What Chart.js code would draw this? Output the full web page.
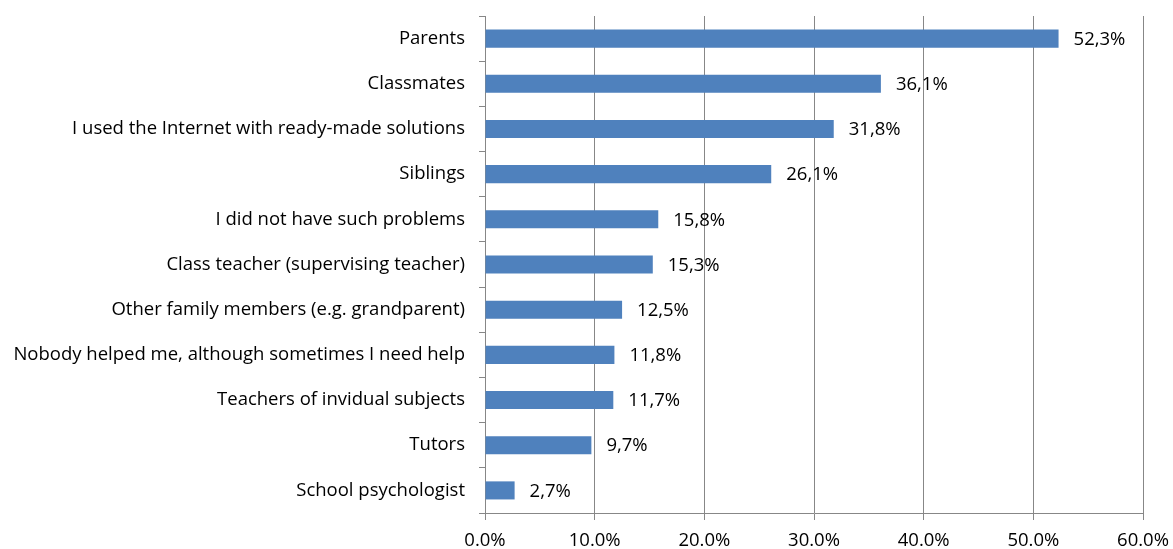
<!DOCTYPE html>
<html>
<head>
<meta charset="utf-8">
<script src="https://cdn.jsdelivr.net/npm/chart.js@4/dist/chart.umd.min.js"></script>
<style>
  body { margin: 0; background: #fff; }
  #wrap { width: 1173px; height: 549px; }
</style>
</head>
<body>
<div id="wrap"><canvas id="canvas" width="1173" height="549"></canvas></div>
<script>
var categories = [
  'Parents',
  'Classmates',
  'I used the Internet with ready-made solutions',
  'Siblings',
  'I did not have such problems',
  'Class teacher (supervising teacher)',
  'Other family members (e.g. grandparent)',
  'Nobody helped me, although sometimes I need help',
  'Teachers of invidual subjects',
  'Tutors',
  'School psychologist'
];
var shares = [52.3, 36.1, 31.8, 26.1, 15.8, 15.3, 12.5, 11.8, 11.7, 9.7, 2.7];
var axisMin = 0, axisMax = 60, axisStep = 10;

var FONT = '"Open Sans", Lato, sans-serif';
var FONT_SIZE = 18.5;
var lineGray = '#878787';

// value labels printed to the right of each bar, with a decimal comma
var valueLabels = {
  id: 'valueLabels',
  afterDatasetsDraw: function(chart) {
    var ctx = chart.ctx;
    var meta = chart.getDatasetMeta(0);
    ctx.save();
    ctx.fillStyle = '#000';
    ctx.font = FONT_SIZE + 'px ' + FONT;
    ctx.textAlign = 'left';
    ctx.textBaseline = 'middle';
    meta.data.forEach(function(bar, i) {
      var txt = shares[i].toFixed(1).replace('.', ',') + '%';
      ctx.fillText(txt, bar.x + 15, bar.y + 1);
    });
    ctx.restore();
  }
};

var ctx = document.getElementById('canvas').getContext('2d');
new Chart(ctx, {
  type: 'bar',
  data: {
    labels: categories,
    datasets: [{
      data: shares,
      backgroundColor: '#4F81BD',
      borderWidth: 0,
      categoryPercentage: 1,
      barPercentage: 0.4
    }]
  },
  options: {
    indexAxis: 'y',
    responsive: false,
    animation: false,
    layout: { padding: { top: 16, right: 30, left: 0, bottom: 0 } },
    plugins: { legend: { display: false }, tooltip: { enabled: false } },
    scales: {
      x: {
        min: axisMin,
        max: axisMax,
        afterFit: function(scale) {
          scale.height = 36;
          scale.paddingLeft = 0;
          scale.paddingRight = 0;
        },
        ticks: {
          stepSize: axisStep,
          color: '#000',
          padding: 10,
          font: { family: FONT, size: FONT_SIZE },
          callback: function(v) { return v.toFixed(1) + '%'; }
        },
        grid: { color: lineGray, lineWidth: 1, tickLength: 7 },
        border: { color: lineGray, width: 1 }
      },
      y: {
        afterFit: function(scale) {
          scale.width = 485;
          scale.paddingTop = 0;
          scale.paddingBottom = 0;
        },
        ticks: {
          color: '#000',
          padding: 14,
          font: { family: FONT, size: FONT_SIZE }
        },
        grid: {
          offset: true,
          drawOnChartArea: false,
          color: lineGray,
          tickLength: 6
        },
        border: { color: lineGray, width: 1 }
      }
    }
  },
  plugins: [valueLabels]
});
</script>
</body>
</html>
